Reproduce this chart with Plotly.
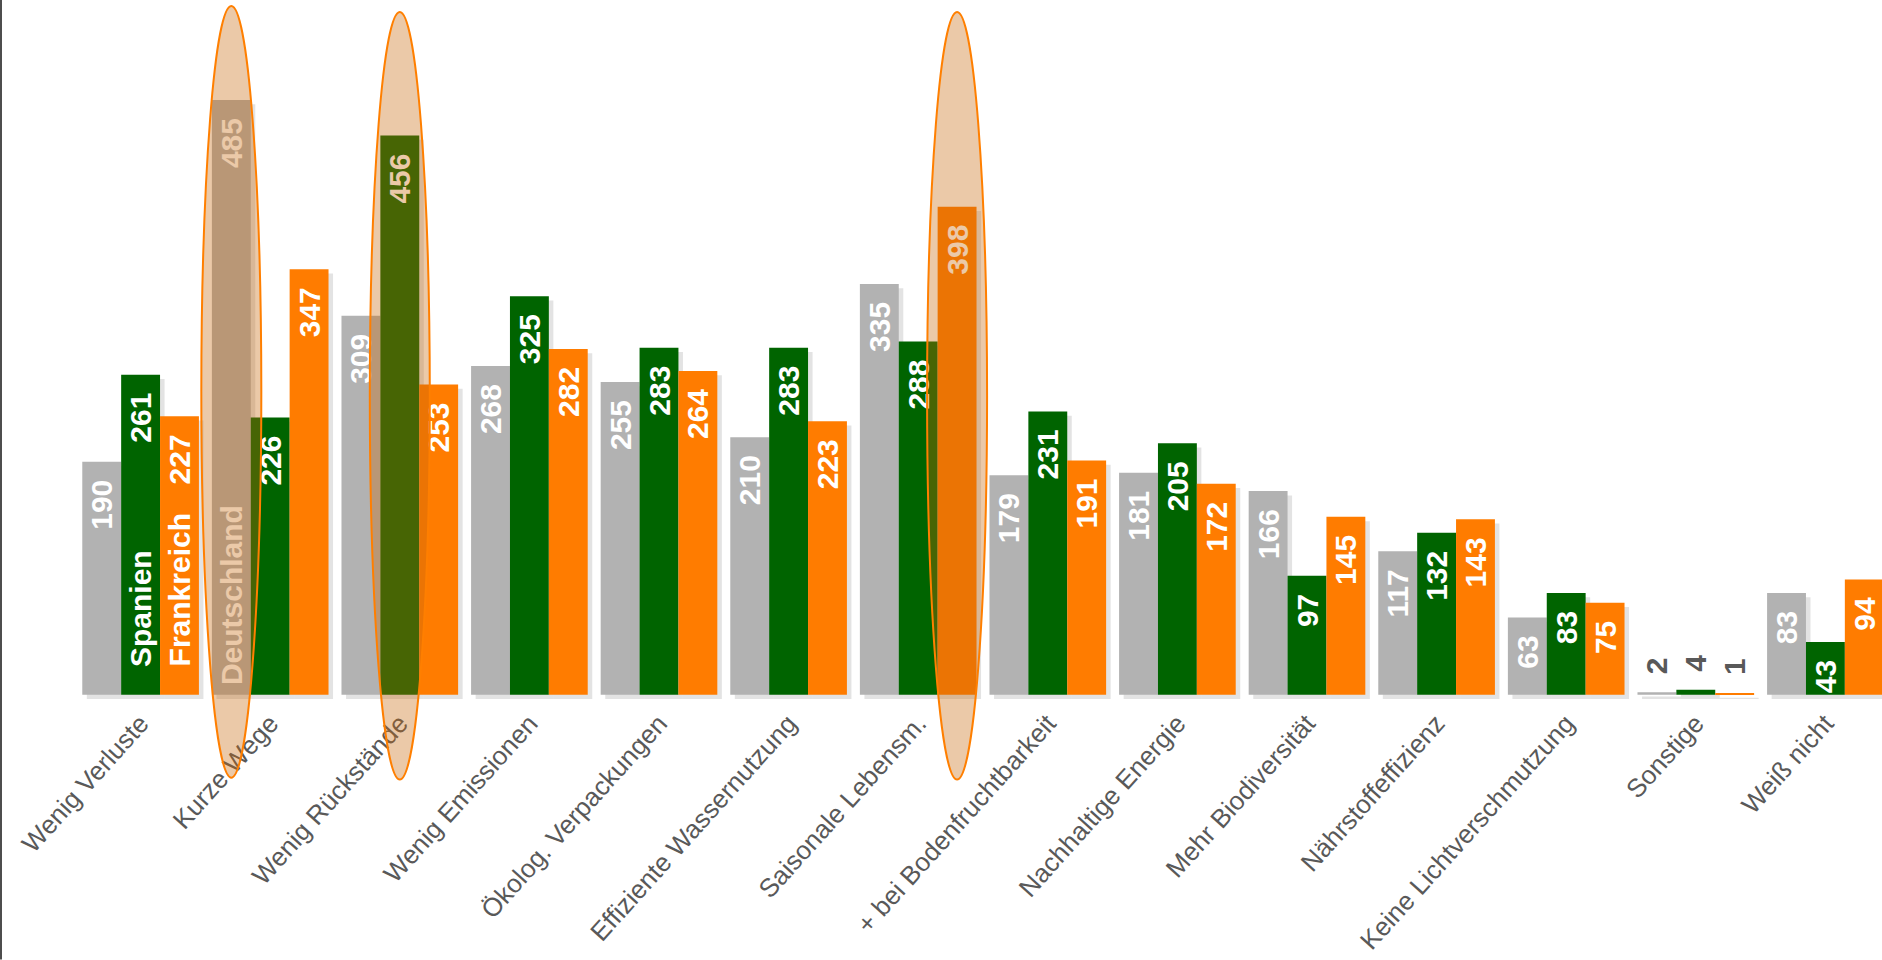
import plotly.graph_objects as go

# ---------------- data ----------------
categories = ["Wenig Verluste", "Kurze Wege", "Wenig Rückstände", "Wenig Emissionen",
              "Ökolog. Verpackungen", "Effiziente Wassernutzung", "Saisonale Lebensm.",
              "+ bei Bodenfruchtbarkeit", "Nachhaltige Energie", "Mehr Biodiversität",
              "Nährstoffeffizienz", "Keine Lichtverschmutzung", "Sonstige", "Weiß nicht"]
deutschland = [190, 485, 309, 268, 255, 210, 335, 179, 181, 166, 117, 63, 2, 83]
spanien = [261, 226, 456, 325, 283, 283, 288, 231, 205, 97, 132, 83, 4, 43]
frankreich = [227, 347, 253, 282, 264, 223, 398, 191, 172, 145, 143, 75, 1, 94]
series_names = ["Deutschland", "Spanien", "Frankreich"]
highlights = [("Kurze Wege", "Deutschland"), ("Wenig Rückstände", "Spanien"),
              ("Saisonale Lebensm.", "Frankreich")]
# where the series names are written inside bars
name_labels = [("Wenig Verluste", "Spanien"), ("Wenig Verluste", "Frankreich"),
               ("Kurze Wege", "Deutschland")]

# ---------------- style ----------------
W, H = 1882, 960
colors = {"Deutschland": "#B2B2B2", "Spanien": "#006400", "Frankreich": "#FF7C00"}
offsets = {"Deutschland": -0.45, "Spanien": -0.15, "Frankreich": 0.15}
BW = 0.3
PXU = 129.6          # pixels per category
X0PX = 140.6         # pixel of first category centre
YPX = 1.2267         # pixels per value unit
BASE_PX = 695        # baseline pixel
YMIN = -6
YMAX = BASE_PX / YPX
plot_h = (YMAX - YMIN) * YPX
MB = H - plot_h
FONT = "Liberation Sans, Arial, sans-serif"
SP = "\u2002"

values = {"Deutschland": deutschland, "Spanien": spanien, "Frankreich": frankreich}

fig = go.Figure()

# shadows
for name in series_names:
    fig.add_trace(go.Bar(
        x=categories, y=values[name], base=-3.5, width=BW,
        offset=offsets[name] + 0.035,
        marker=dict(color="rgba(0,0,0,0.11)", line=dict(width=0)),
        hoverinfo="skip", showlegend=False))

# main bars
for name in series_names:
    vals = values[name]
    small = [v < 20 for v in vals]
    fig.add_trace(go.Bar(
        x=categories, y=vals, width=BW, offset=offsets[name], name=name,
        marker=dict(color=colors[name], line=dict(width=0)),
        text=[(SP + str(v)) if s else (str(v) + SP) for v, s in zip(vals, small)],
        textposition=["outside" if s else "inside" for s in small],
        insidetextanchor="end", textangle=-90, constraintext="none",
        insidetextfont=dict(family=FONT, size=30, color="white", weight="bold"),
        outsidetextfont=dict(family=FONT, size=30, color="#595959", weight="bold"),
        cliponaxis=False, showlegend=False))

def to_paper(v):
    return (v - YMIN) / (YMAX - YMIN)

# highlight ellipses
ell = {"Kurze Wege": (561.7, -67.7)}
for cat, ser in highlights:
    cx = categories.index(cat) + offsets[ser] + BW / 2
    top, bot = ell.get(cat, (556.8, -69.3))
    half = 30 / PXU
    fig.add_shape(type="circle", xref="x", yref="paper",
                  x0=cx - half, x1=cx + half, y0=to_paper(bot), y1=to_paper(top),
                  fillcolor="rgba(199,103,10,0.355)",
                  line=dict(color="#FF7F00", width=2), layer="above")

# series names inside bars
name_y = {"Spanien": 21, "Frankreich": 21.4, "Deutschland": 6.4}
for cat, ser in name_labels:
    cx = categories.index(cat) + offsets[ser] + BW / 2
    hl = (cat, ser) in highlights
    fig.add_annotation(x=cx, y=name_y[ser], xref="x", yref="y", text=ser,
                       showarrow=False, textangle=-90, xanchor="center", yanchor="bottom",
                       font=dict(family=FONT, size=30, weight="bold",
                                 color="#EBC9A8" if hl else "white"))

# left frame line
fig.add_shape(type="line", xref="paper", yref="paper", x0=0, x1=0,
              y0=-MB / plot_h, y1=1, line=dict(color="#4D4D4D", width=4), layer="above")

fig.update_layout(
    width=W, height=H, barmode="overlay",
    margin=dict(l=0, r=0, t=0, b=MB),
    paper_bgcolor="white", plot_bgcolor="white",
    xaxis=dict(range=[-X0PX / PXU, (W - X0PX) / PXU], tickangle=-48,
               tickfont=dict(family=FONT, size=26, color="#595959"),
               showgrid=False, zeroline=False, showline=False, ticks=""),
    yaxis=dict(range=[YMIN, YMAX], visible=False, showgrid=False, zeroline=False),
)

fig.write_html("out.html", config={"displayModeBar": False},
               post_script="document.body.style.margin='0';document.body.style.overflow='hidden';")
